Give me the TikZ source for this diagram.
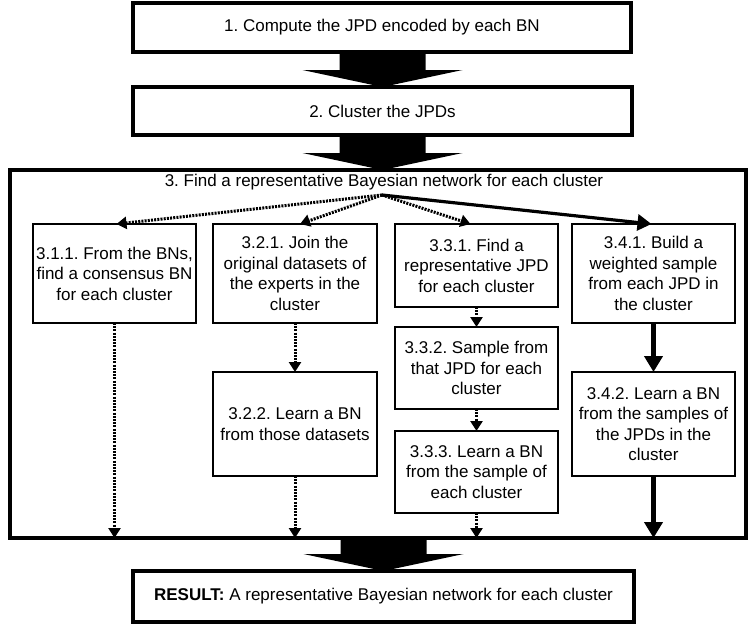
\documentclass[tikz,border=0pt]{standalone}
\usepackage{fontspec}
\setmainfont{Liberation Sans}
\usetikzlibrary{arrows.meta,calc}
\newcommand{\fatarrow}[2]{\fill let \p1=(#1), \p2=(#2) in
  (\x2-43pt,\y1) -- (\x2-43pt,\y2+17pt) -- (\x2-80pt,\y2+17pt) -- (\x2,\y2)
  -- (\x2+80pt,\y2+17pt) -- (\x2+43pt,\y2+17pt) -- (\x2+43pt,\y1) -- cycle;}
\begin{document}
\frenchspacing
\begin{tikzpicture}[x=1pt,y=-1pt,
  font=\fontsize{17}{20.5}\selectfont\frenchspacing,
  outerbox/.style={draw,line width=3.2pt,inner sep=0pt,outer sep=0pt,anchor=north west},
  innerbox/.style={draw,line width=1.5pt,minimum width=163pt,inner sep=0pt,outer sep=0pt,align=center,anchor=north west},
  dotarrow/.style={line width=3pt,dash pattern=on 2pt off 1.2pt,-{Triangle[length=10pt,width=12pt]}},
  solidarrow/.style={line width=3.2pt,-{Triangle[length=14pt,width=16pt]}},
  fatline/.style={line width=4.2pt,-{Triangle[length=16pt,width=18pt]}},
]
\useasboundingbox (0,0) rectangle (749,627);

% main boxes
\node[outerbox,minimum width=498pt,minimum height=49pt] (b1) at (133,3) {1. Compute the JPD encoded by each BN};
\node[outerbox,minimum width=499pt,minimum height=48pt] (b2) at (133,87) {2. Cluster the JPDs};
\node[outerbox,minimum width=736pt,minimum height=368pt] (b3) at (10,170) {};
\node[outerbox,minimum width=501pt,minimum height=51pt] (res) at (133,571) {\textbf{RESULT:} A representative Bayesian network for each cluster};

\node[inner sep=0pt] (t3) at (384,182) {3. Find a representative Bayesian network for each cluster};
\coordinate (src) at (382,195);

% inner boxes
\node[innerbox,minimum height=99pt] (b311) at (33,224) {3.1.1. From the BNs,\\find a consensus BN\\for each cluster};
\node[innerbox,minimum width=164pt,minimum height=99pt] (b321) at (213,224) {3.2.1. Join the\\original datasets of\\the experts in the\\cluster};
\node[innerbox,minimum width=164pt,minimum height=104pt] (b322) at (213,372) {\\[-8pt]3.2.2. Learn a BN\\from those datasets};
\node[innerbox,minimum height=83pt] (b331) at (395,224) {3.3.1. Find a\\representative JPD\\for each cluster};
\node[innerbox,minimum height=82pt] (b332) at (395,327) {3.3.2. Sample from\\that JPD for each\\cluster};
\node[innerbox,minimum height=82pt] (b333) at (395,431) {3.3.3. Learn a BN\\from the sample of\\each cluster};
\node[innerbox,minimum height=99pt] (b341) at (572,224) {3.4.1. Build a\\weighted sample\\from each JPD in\\the cluster};
\node[innerbox,minimum height=104pt] (b342) at (572,372) {3.4.2. Learn a BN\\from the samples of\\the JPDs in the\\cluster};

% fat arrows between main steps
\fatarrow{b1.south}{b2.north}
\fatarrow{b2.south}{b2.south |- b3.north}
\fatarrow{b3.south}{res.north}

% arrows from the step-3 title
\draw[dotarrow] (src) -- ($(b311.north)+(2,0)$);
\draw[dotarrow] (src) -- ($(b321.north)+(5,0)$);
\draw[dotarrow] (src) -- ($(b331.north)+(-6,0)$);
\draw[solidarrow] (src) -- ($(b341.north)+(-2,0)$);

% vertical connectors
\draw[dotarrow] (b311.south) -- (b311.south |- b3.south);
\draw[dotarrow] (b321.south) -- (b322.north);
\draw[dotarrow] (b322.south) -- (b322.south |- b3.south);
\draw[dotarrow] (b331.south) -- (b332.north);
\draw[dotarrow] (b332.south) -- (b333.north);
\draw[dotarrow] (b333.south) -- (b333.south |- b3.south);
\draw[fatline] (b341.south) -- (b342.north);
\draw[fatline] (b342.south) -- (b342.south |- b3.south);
\end{tikzpicture}
\end{document}
